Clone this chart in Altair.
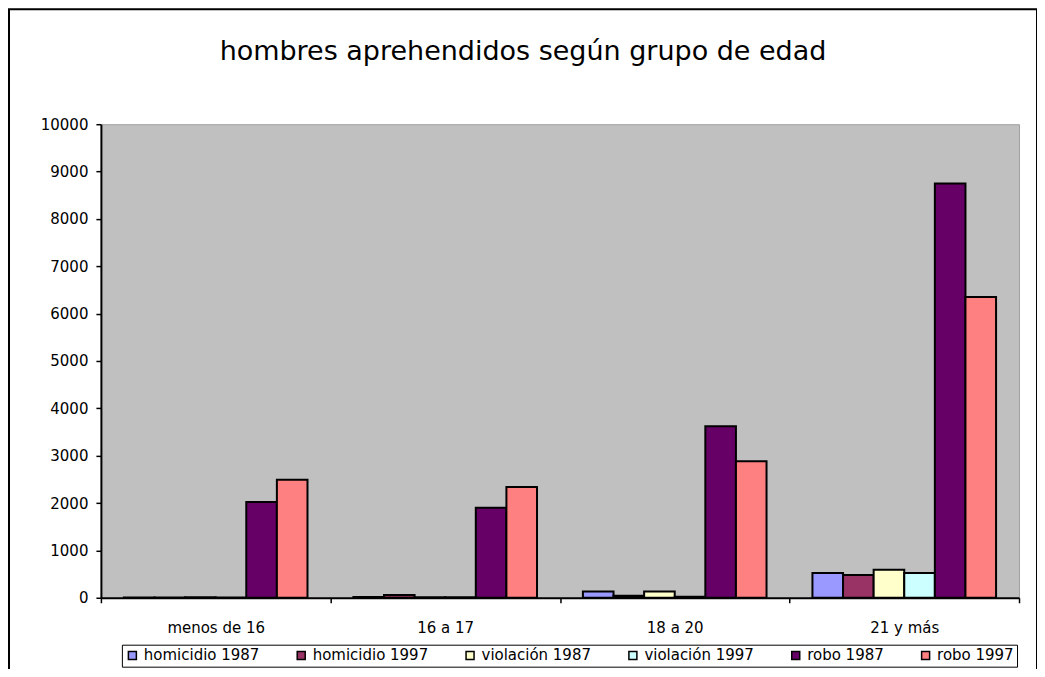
import altair as alt
import pandas as pd

categories = ["menos de 16", "16 a 17", "18 a 20", "21 y más"]
series = ["homicidio 1987", "homicidio 1997", "violación 1987",
          "violación 1997", "robo 1987", "robo 1997"]
homicidio_1987 = [5, 15, 130, 520]
homicidio_1997 = [5, 60, 40, 480]
violacion_1987 = [10, 10, 130, 590]
violacion_1997 = [5, 10, 20, 520]
robo_1987 = [2020, 1900, 3620, 8750]
robo_1997 = [2490, 2340, 2880, 6350]
colors = ["#9999FF", "#993366", "#FFFFCC", "#CCFFFF", "#660066", "#FF8080"]
y_ticks = [0, 1000, 2000, 3000, 4000, 5000, 6000, 7000, 8000, 9000, 10000]

values = [homicidio_1987, homicidio_1997, violacion_1987,
          violacion_1997, robo_1987, robo_1997]
rows = []
for s, vals in zip(series, values):
    for c, v in zip(categories, vals):
        rows.append({"grupo": c, "serie": s, "valor": v})
df = pd.DataFrame(rows)

FONT = "DejaVu Sans"
W, H = 919, 474

bars = alt.Chart(df).mark_bar(stroke="black", strokeWidth=2).encode(
    x=alt.X("grupo:N", sort=categories,
            scale=alt.Scale(paddingInner=0, paddingOuter=0),
            axis=alt.Axis(title=None, labelAngle=0, tickBand="extent",
                          domainColor="black", domainWidth=2,
                          tickColor="black", tickSize=5, tickWidth=1.5,
                          labelFont=FONT, labelFontSize=15, labelColor="black",
                          labelPadding=18)),
    xOffset=alt.XOffset("serie:N", sort=series,
                        scale=alt.Scale(paddingInner=0, paddingOuter=0.75)),
    y=alt.Y("valor:Q", scale=alt.Scale(domain=[0, 10000], nice=False),
            axis=alt.Axis(title=None, values=y_ticks, grid=False, format="d",
                          domainColor="black", domainWidth=2,
                          tickColor="black", tickSize=5, tickWidth=1.5,
                          labelFont=FONT, labelFontSize=15, labelColor="black",
                          labelPadding=8)),
    color=alt.Color("serie:N", sort=series,
                    scale=alt.Scale(domain=series, range=colors),
                    legend=alt.Legend(orient="none", legendX=21, legendY=521,
                                      direction="horizontal", title=None,
                                      symbolType="square", symbolSize=64,
                                      symbolStrokeColor="black",
                                      symbolStrokeWidth=1.5,
                                      labelFont=FONT, labelFontSize=15,
                                      labelColor="black", labelOffset=4,
                                      strokeColor="black", fillColor="white",
                                      padding=3, columnPadding=34)),
)

border = alt.Chart(pd.DataFrame({"a": [0]})).mark_rect(
    fillOpacity=0, stroke="black", strokeWidth=2
).encode(
    x=alt.value(-92), x2=alt.value(W + 18),
    y=alt.value(-115), y2=alt.value(H + 120),
)

chart = alt.layer(border, bars).properties(
    width=W, height=H,
    autosize=alt.AutoSizeParams(type="none"),
    padding={"left": 93, "top": 116, "right": 18, "bottom": 71},
    title=alt.TitleParams("hombres aprehendidos según grupo de edad",
                          font=FONT, fontSize=27, fontWeight="normal",
                          color="black", anchor="middle", offset=0,
                          dx=-37, dy=58),
).configure_view(fill="#C0C0C0", stroke="#A0A0A0", strokeWidth=1)

chart.save("out.html", embed_options={"renderer": "svg", "actions": False})
